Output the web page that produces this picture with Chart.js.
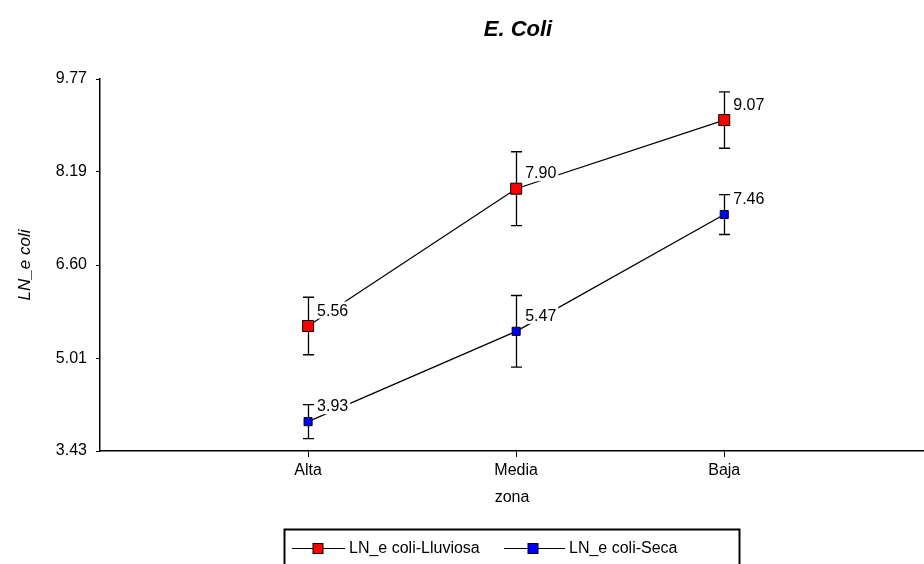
<!DOCTYPE html>
<html>
<head>
<meta charset="utf-8">
<title>E. Coli</title>
<script src="https://cdn.jsdelivr.net/npm/chart.js@4.4.0/dist/chart.umd.min.js"></script>
<style>
  html, body { margin: 0; padding: 0; background: #fff; }
</style>
</head>
<body>
<canvas id="myChart" width="924" height="564"></canvas>
<script>
const zonas = ['Alta', 'Media', 'Baja'];
const lluviosa = [5.56, 7.90, 9.07];
const lluviosaErr = [0.49, 0.63, 0.48];
const seca = [3.93, 5.47, 7.46];
const secaErr = [0.29, 0.61, 0.34];
const yTicks = [3.43, 5.01, 6.60, 8.19, 9.77];

const FONT = '"Liberation Sans", Arial, sans-serif';
const ctx = document.getElementById('myChart');

function toPoints(values) {
  return values.map((v, i) => ({x: i + 1, y: v}));
}

// error bars under the lines and markers
const errorBars = {
  id: 'errorBars',
  beforeDatasetsDraw(chart) {
    const {ctx, scales: {x, y}} = chart;
    ctx.save();
    ctx.strokeStyle = '#000';
    ctx.lineWidth = 1.3;
    chart.data.datasets.forEach((ds) => {
      ds.data.forEach((p, i) => {
        const px = Math.round(x.getPixelForValue(p.x)) + 0.5;
        const top = y.getPixelForValue(p.y + ds.err[i]);
        const bot = y.getPixelForValue(p.y - ds.err[i]);
        ctx.beginPath();
        ctx.moveTo(px, top); ctx.lineTo(px, bot);
        ctx.moveTo(px - 5.5, top); ctx.lineTo(px + 5.5, top);
        ctx.moveTo(px - 5.5, bot); ctx.lineTo(px + 5.5, bot);
        ctx.stroke();
      });
    });
    ctx.restore();
  }
};

// value labels with a white box that hides the line behind them
const valueLabels = {
  id: 'valueLabels',
  afterDatasetsDraw(chart) {
    const {ctx, scales: {x, y}} = chart;
    ctx.save();
    ctx.font = '16px ' + FONT;
    ctx.textBaseline = 'alphabetic';
    chart.data.datasets.forEach((ds) => {
      ds.data.forEach((p) => {
        const txt = p.y.toFixed(2);
        const tx = x.getPixelForValue(p.x) + 9;
        const ty = y.getPixelForValue(p.y) - 10.5;
        const w = ctx.measureText(txt).width;
        ctx.fillStyle = '#fff';
        ctx.fillRect(tx - 2, ty - 14, w + 4, 17);
        ctx.fillStyle = '#000';
        ctx.fillText(txt, tx, ty);
      });
    });
    ctx.restore();
  }
};

// title + boxed legend (line through a square marker)
const decorations = {
  id: 'decorations',
  afterDraw(chart) {
    const {ctx} = chart;
    ctx.save();
    ctx.fillStyle = '#000';
    ctx.font = 'italic bold 22px ' + FONT;
    ctx.textAlign = 'center';
    ctx.textBaseline = 'middle';
    ctx.fillText('E. Coli', 518, 30);

    const L = 284, T = 529;
    ctx.strokeStyle = '#000';
    ctx.lineWidth = 2;
    ctx.strokeRect(L + 0.5, T + 0.5, 455, 60);

    const items = [
      {ds: chart.data.datasets[0], x0: 8, x1: 61, sq: 34, tx: 65},
      {ds: chart.data.datasets[1], x0: 220, x1: 281, sq: 249, tx: 285}
    ];
    const cy = 548.5;
    ctx.textAlign = 'left';
    ctx.font = '16px ' + FONT;
    items.forEach((it) => {
      ctx.lineWidth = 1;
      ctx.beginPath();
      ctx.moveTo(L + it.x0, cy);
      ctx.lineTo(L + it.x1, cy);
      ctx.stroke();
      ctx.fillStyle = it.ds.pointBackgroundColor;
      ctx.fillRect(L + it.sq - 5, cy - 5, 10, 10);
      ctx.strokeRect(L + it.sq - 5, cy - 5, 10, 10);
      ctx.fillStyle = '#000';
      ctx.fillText(it.ds.label, L + it.tx, cy);
    });
    ctx.restore();
  }
};

new Chart(ctx, {
  type: 'line',
  data: {
    datasets: [
      {
        label: 'LN_e coli-Lluviosa',
        data: toPoints(lluviosa),
        err: lluviosaErr,
        borderColor: '#000',
        borderWidth: 1.3,
        pointStyle: 'rect',
        pointRadius: 7.8,
        pointBackgroundColor: '#ff0000',
        pointBorderColor: '#000',
        pointBorderWidth: 1
      },
      {
        label: 'LN_e coli-Seca',
        data: toPoints(seca),
        err: secaErr,
        borderColor: '#000',
        borderWidth: 1.3,
        pointStyle: 'rect',
        pointRadius: 5.7,
        pointBackgroundColor: '#0000ff',
        pointBorderColor: '#000',
        pointBorderWidth: 1
      }
    ]
  },
  options: {
    responsive: false,
    animation: false,
    layout: {autoPadding: false, padding: {top: 79, left: 10, right: 0, bottom: 51}},
    plugins: {
      legend: {display: false},
      tooltip: {enabled: false},
      title: {display: false}
    },
    scales: {
      x: {
        type: 'linear',
        min: 0,
        max: 3.96,
        afterBuildTicks: (axis) => { axis.ticks = zonas.map((z, i) => ({value: i + 1})); },
        afterFit: (axis) => { axis.height = 62; },
        ticks: {
          autoSkip: false,
          maxRotation: 0,
          padding: 4,
          color: '#000',
          font: {family: FONT, size: 16},
          callback: (v) => zonas[v - 1]
        },
        grid: {drawOnChartArea: false, drawTicks: true, tickLength: 6, color: '#000'},
        border: {display: true, color: '#000', width: 1.5},
        title: {
          display: true,
          text: 'zona',
          color: '#000',
          font: {family: FONT, size: 16},
          padding: {top: 0, bottom: 6}
        }
      },
      y: {
        min: 3.43,
        max: 9.77,
        afterBuildTicks: (axis) => { axis.ticks = yTicks.map((v) => ({value: v})); },
        afterFit: (axis) => { axis.width = 90; },
        ticks: {
          autoSkip: false,
          padding: 9,
          color: '#000',
          font: {family: FONT, size: 16},
          callback: (v) => v.toFixed(2)
        },
        grid: {drawOnChartArea: false, drawTicks: true, tickLength: 4, color: '#000'},
        border: {display: true, color: '#000', width: 1.5},
        title: {
          display: true,
          text: 'LN_e coli',
          color: '#000',
          font: {family: FONT, size: 17, style: 'italic'},
          padding: {top: 5, bottom: 0}
        }
      }
    }
  },
  plugins: [errorBars, valueLabels, decorations]
});
</script>
</body>
</html>
